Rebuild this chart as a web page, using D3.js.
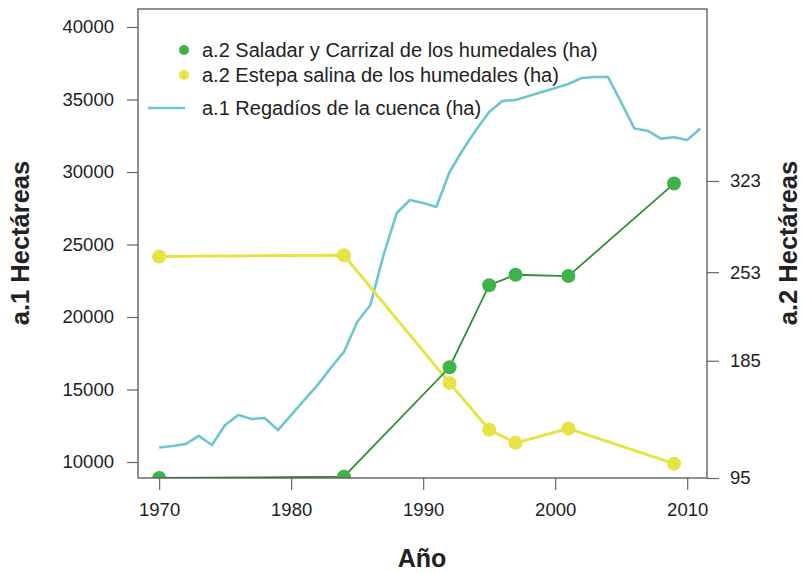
<!DOCTYPE html>
<html>
<head>
<meta charset="utf-8">
<style>
  body { margin: 0; background: #fff; }
  svg text { font-family: "Liberation Sans", Arial, sans-serif; fill: #222; }
  .tick line { stroke: #666; stroke-width: 1.2px; }
</style>
<script src="https://d3js.org/d3.v7.min.js"></script>
</head>
<body>
<script>
// a.1 Regadíos de la cuenca (ha), one value per year
var regYears = d3.range(1970, 2012);
var regadios = [11000, 11100, 11240, 11800, 11170, 12550, 13240, 12970, 13030, 12200,
                13240, 14280, 15300, 16480, 17590, 19650, 20830, 24280, 27170, 28070,
                27860, 27590, 30000, 31520, 32900, 34140, 34900, 34970, 35240, 35520,
                35790, 36070, 36480, 36550, 36550, 34800, 33000, 32850, 32300, 32400,
                32200, 33000];

// a.2 series (right axis)
var a2Years = [1970, 1984, 1992, 1995, 1997, 2001, 2009];
var saladar = [95, 96, 180, 243, 251, 250, 321];
var estepa = [265, 266, 168, 132, 122, 133, 106];

var xTicks = [1970, 1980, 1990, 2000, 2010];
var leftTicks = [10000, 15000, 20000, 25000, 30000, 35000, 40000];
var rightTicks = [95, 185, 253, 323];

var legendItems = [
  { label: "a.2 Saladar y Carrizal de los humedales (ha)", color: "#3db34a", type: "dot" },
  { label: "a.2 Estepa salina de los humedales (ha)", color: "#e6e445", type: "dot" },
  { label: "a.1 Regadíos de la cuenca (ha)", color: "#6cc6d2", type: "line" }
];

var width = 802, height = 573;
var L = 138, R = 707, T = 9, B = 478;

var svg = d3.select("body").append("svg")
  .attr("width", width).attr("height", height);

var x = d3.scaleLinear().domain([1968.4, 2011.5]).range([L, R]);
var yL = d3.scaleLinear().domain([8897, 41241]).range([B, T]);
var yR = d3.scaleLinear().domain([95, 455]).range([B, T]);

// axes
var gx = svg.append("g").attr("transform", "translate(0," + B + ")")
  .call(d3.axisBottom(x).tickValues(xTicks).tickFormat(d3.format("d")).tickSize(12).tickPadding(13));
var gl = svg.append("g").attr("transform", "translate(" + L + ",0)")
  .call(d3.axisLeft(yL).tickValues(leftTicks).tickFormat(d3.format("d")).tickSize(11).tickPadding(13));
var gr = svg.append("g").attr("transform", "translate(" + R + ",0)")
  .call(d3.axisRight(yR).tickValues(rightTicks).tickSize(12).tickPadding(11));
[gx, gl, gr].forEach(function (g) {
  g.select(".domain").remove();
  g.selectAll("text").style("font-size", "18.5px");
});

// clip
svg.append("clipPath").attr("id", "clip")
  .append("rect").attr("x", L).attr("y", T).attr("width", R - L).attr("height", B - T);
var plot = svg.append("g").attr("clip-path", "url(#clip)");

// regadios line
plot.append("path")
  .datum(regYears.map(function (d, i) { return [d, regadios[i]]; }))
  .attr("fill", "none").attr("stroke", "#6cc6d2").attr("stroke-width", 2.6)
  .attr("stroke-linejoin", "round")
  .attr("d", d3.line().x(function (d) { return x(d[0]); }).y(function (d) { return yL(d[1]); }));

function drawA2(values, lineColor, dotColor, lw) {
  var pts = a2Years.map(function (d, i) { return [d, values[i]]; });
  plot.append("path").datum(pts)
    .attr("fill", "none").attr("stroke", lineColor).attr("stroke-width", lw)
    .attr("d", d3.line().x(function (d) { return x(d[0]); }).y(function (d) { return yR(d[1]); }));
  plot.selectAll(null).data(pts).enter().append("circle")
    .attr("cx", function (d) { return x(d[0]); })
    .attr("cy", function (d) { return yR(d[1]); })
    .attr("r", 7).attr("fill", dotColor);
}
drawA2(estepa, "#e6e445", "#e6e445", 3);
drawA2(saladar, "#2f8f33", "#3db34a", 1.8);

// box
svg.append("rect").attr("x", L).attr("y", T).attr("width", R - L).attr("height", B - T)
  .attr("fill", "none").attr("stroke", "#555").attr("stroke-width", 1.3);

// legend
var lg = svg.append("g");
var rowsY = [50, 75, 108];
legendItems.forEach(function (d, i) {
  if (d.type === "dot") {
    lg.append("circle").attr("cx", 184).attr("cy", rowsY[i]).attr("r", 5).attr("fill", d.color);
  } else {
    lg.append("line").attr("x1", 148).attr("x2", 185).attr("y1", rowsY[i]).attr("y2", rowsY[i])
      .attr("stroke", d.color).attr("stroke-width", 2.6);
  }
  lg.append("text").attr("x", 202).attr("y", rowsY[i]).attr("dy", "0.35em")
    .style("font-size", "20px").text(d.label);
});

// titles
svg.append("text").attr("x", 422).attr("y", 567).attr("text-anchor", "middle")
  .style("font-size", "25px").style("font-weight", "bold").text("Año");
svg.append("text").attr("transform", "translate(29,243) rotate(-90)").attr("text-anchor", "middle")
  .style("font-size", "25.5px").style("font-weight", "bold").text("a.1 Hectáreas");
svg.append("text").attr("transform", "translate(797,243) rotate(-90)").attr("text-anchor", "middle")
  .style("font-size", "25.5px").style("font-weight", "bold").text("a.2 Hectáreas");
</script>
</body>
</html>
